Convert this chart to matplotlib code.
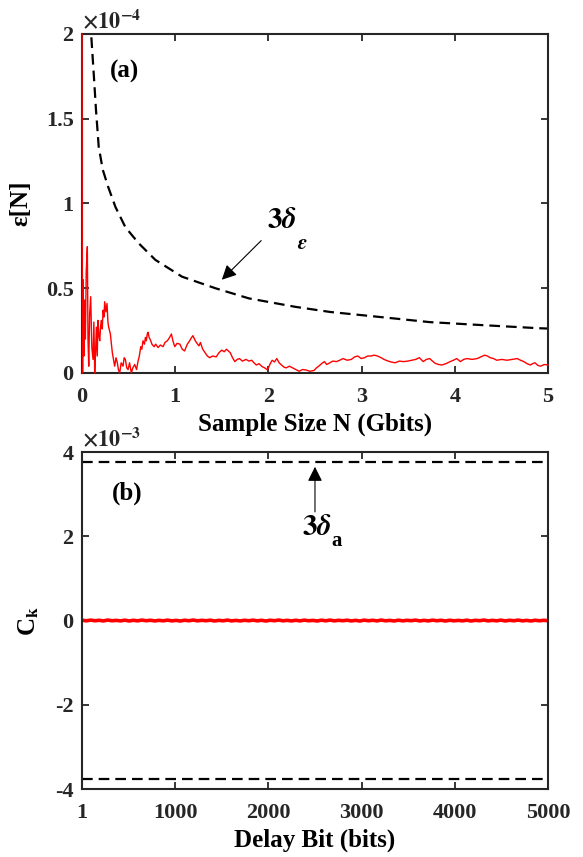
import matplotlib
matplotlib.use('Agg')
import matplotlib.pyplot as plt
import numpy as np

# panel (a): running error vs sample size (values in units of 1e-4)
n_gbits = [0, 0.002, 0.006, 0.012, 0.02, 0.028, 0.036, 0.045, 0.057, 0.064, 0.072,
           0.082, 0.093, 0.105, 0.118, 0.127, 0.136, 0.145, 0.154, 0.163, 0.172,
           0.181, 0.19, 0.2, 0.208, 0.217, 0.226, 0.235, 0.243, 0.255, 0.268,
           0.278, 0.286, 0.295, 0.304, 0.315, 0.325, 0.338, 0.35, 0.365, 0.379,
           0.39, 0.404, 0.42, 0.44, 0.452, 0.465, 0.48, 0.494, 0.51, 0.529,
           0.545, 0.565, 0.585, 0.601, 0.615, 0.63, 0.642, 0.654, 0.67, 0.68,
           0.69, 0.70, 0.708, 0.72, 0.737, 0.75, 0.773, 0.79, 0.816, 0.84,
           0.87, 0.89, 0.916, 0.94, 0.959, 0.975, 0.995, 1.02, 1.05, 1.075,
           1.10, 1.13, 1.155, 1.17, 1.19, 1.215, 1.24, 1.255, 1.27, 1.295,
           1.32, 1.345, 1.37, 1.40, 1.44, 1.47, 1.50, 1.525, 1.55, 1.57,
           1.59, 1.615, 1.64, 1.665, 1.69, 1.72, 1.76, 1.79, 1.82, 1.845,
           1.87, 1.90, 1.93, 1.96, 1.99, 2.015, 2.04, 2.065, 2.09, 2.115,
           2.14, 2.165, 2.19, 2.225, 2.26, 2.295, 2.33, 2.365, 2.40, 2.445,
           2.49, 2.515, 2.54, 2.57, 2.60, 2.625, 2.65, 2.69, 2.73, 2.765,
           2.80, 2.845, 2.89, 2.925, 2.96, 2.995, 3.03, 3.065, 3.10, 3.135,
           3.17, 3.21, 3.24, 3.27, 3.315, 3.36, 3.405, 3.45, 3.495, 3.54,
           3.58, 3.62, 3.66, 3.695, 3.73, 3.76, 3.79, 3.825, 3.86, 3.905,
           3.95, 3.985, 4.02, 4.06, 4.095, 4.13, 4.185, 4.24, 4.28, 4.32,
           4.35, 4.38, 4.415, 4.45, 4.505, 4.56, 4.615, 4.67, 4.705, 4.74,
           4.775, 4.81, 4.835, 4.86, 4.89, 4.92, 4.96, 5.0]
eps_n = [2.0, 0.84, 0.0, 0.55, 0.1, 0.43, 0.2, 0.6, 0.745, 0.2, 0.04,
         0.35, 0.45, 0.15, 0.08, 0.3, 0.0, 0.12, 0.27, 0.1, 0.31,
         0.22, 0.19, 0.28, 0.31, 0.26, 0.37, 0.33, 0.42, 0.36, 0.41,
         0.3, 0.27, 0.25, 0.23, 0.17, 0.12, 0.08, 0.04, 0.09, 0.06,
         0.02, 0.0, 0.06, 0.04, 0.09, 0.08, 0.03, 0.02, 0.06, 0.0,
         0.03, 0.05, 0.02, 0.07, 0.1, 0.155, 0.14, 0.19, 0.17, 0.21,
         0.19, 0.23, 0.24, 0.21, 0.19, 0.17, 0.155, 0.17, 0.15, 0.165,
         0.155, 0.18, 0.19, 0.21, 0.23, 0.19, 0.155, 0.175, 0.17, 0.14,
         0.13, 0.17, 0.19, 0.205, 0.22, 0.19, 0.17, 0.16, 0.18, 0.14,
         0.12, 0.10, 0.09, 0.10, 0.095, 0.12, 0.135, 0.125, 0.14, 0.13,
         0.12, 0.09, 0.067, 0.08, 0.085, 0.07, 0.08, 0.07, 0.075, 0.06,
         0.047, 0.055, 0.038, 0.03, 0.018, 0.05, 0.075, 0.065, 0.085, 0.06,
         0.047, 0.035, 0.03, 0.04, 0.03, 0.02, 0.01, 0.02, 0.018, 0.01,
         0.015, 0.03, 0.04, 0.055, 0.067, 0.05, 0.057, 0.07, 0.067, 0.075,
         0.085, 0.075, 0.08, 0.095, 0.1, 0.085, 0.09, 0.1, 0.1, 0.105,
         0.1, 0.09, 0.08, 0.073, 0.065, 0.06, 0.07, 0.067, 0.07, 0.075,
         0.08, 0.09, 0.067, 0.08, 0.085, 0.07, 0.057, 0.05, 0.047, 0.055,
         0.067, 0.075, 0.085, 0.067, 0.08, 0.085, 0.08, 0.085, 0.095, 0.105,
         0.1, 0.09, 0.085, 0.075, 0.08, 0.075, 0.08, 0.085, 0.075, 0.067,
         0.055, 0.047, 0.055, 0.06, 0.045, 0.04, 0.05, 0.047]

# 3*delta_eps bound
bound_n = [0.100, 0.125, 0.150, 0.179, 0.222, 0.279, 0.358, 0.465, 0.608, 0.787,
           1.073, 1.43, 1.79, 2.29, 2.66, 3.20, 3.73, 4.27, 4.90, 5.0]
bound_eps = [1.98, 1.77, 1.55, 1.335, 1.20, 1.10, 0.98, 0.86, 0.765, 0.667,
             0.568, 0.50, 0.44, 0.39, 0.36, 0.33, 0.30, 0.283, 0.264, 0.262]

# panel (b): autocorrelation vs delay (values in units of 1e-3)
ck_vals = [0.008, -0.006, 0.01, -0.004, 0.006, -0.009, 0.012, -0.005, 0.004, -0.008,
           0.009, -0.01, 0.006, -0.007, 0.011, -0.004, 0.007, -0.009, 0.005, -0.006,
           0.01, -0.008, 0.004, -0.011, 0.008, -0.005, 0.012, -0.007, 0.006, -0.004,
           0.009, -0.01, 0.005, -0.006, 0.011, -0.008, 0.004, -0.009, 0.007, -0.005,
           0.01, -0.007, 0.006, -0.011, 0.008, -0.004, 0.012, -0.006, 0.005, -0.009,
           0.007, -0.008, 0.01, -0.005, 0.004, -0.01, 0.009, -0.006, 0.011, -0.007,
           0.006, -0.004, 0.008, -0.009, 0.005, -0.011, 0.01, -0.005, 0.007, -0.008,
           0.012, -0.006, 0.004, -0.01, 0.009, -0.007, 0.006, -0.004, 0.011, -0.009,
           0.005, -0.008, 0.01, -0.005, 0.007, -0.011, 0.008, -0.006, 0.004, -0.007,
           0.009, -0.01, 0.006, -0.004, 0.012, -0.008, 0.005, -0.006, 0.01, -0.009,
           0.007, -0.005, 0.011, -0.007, 0.004, -0.01, 0.008, -0.006, 0.006, -0.004]
delta_a = 3.77
delay_range = [1, 5000]

plt.rcParams['font.family'] = ['Liberation Serif', 'DejaVu Serif']
plt.rcParams['font.weight'] = 'bold'
plt.rcParams['mathtext.fontset'] = 'stix'

edge = '#262626'
dash = (0, (4.8, 2.7))


def style_axes(ax):
    for s in ax.spines.values():
        s.set_linewidth(1.5)
        s.set_color(edge)
    ax.tick_params(direction='in', length=5, width=1.3, top=True, right=True,
                   labelsize=16, colors=edge)
    ax.tick_params(axis='x', pad=10)
    ax.tick_params(axis='y', pad=6)


fig = plt.figure(figsize=(5.83, 8.57), dpi=100)
ax1 = fig.add_axes([0.1407, 0.5648, 0.7993, 0.3956])
ax2 = fig.add_axes([0.1407, 0.0793, 0.7993, 0.3932])

# (a)
ax1.plot(n_gbits, eps_n, color='red', lw=1.0, zorder=3, clip_on=False)
ax1.plot(bound_n, bound_eps, color='black', lw=1.6, linestyle=dash)
ax1.set_xlim(0, 5)
ax1.set_ylim(0, 2)
ax1.set_xticks([0, 1, 2, 3, 4, 5])
ax1.set_yticks([0, 0.5, 1, 1.5, 2])
ax1.set_yticklabels(['0', '0.5', '1', '1.5', '2'])
style_axes(ax1)
ax1.set_xlabel('Sample Size N (Gbits)', fontsize=18, fontweight='bold', labelpad=4)
ax1.set_ylabel('ε[N]', fontsize=18, fontweight='bold', labelpad=10)
ax1.text(0.0, 1.003, r'$\times 10^{-4}$', transform=ax1.transAxes,
         fontsize=16, fontweight='normal', ha='left', va='bottom', color=edge)
ax1.text(0.3, 1.78, '(a)', fontsize=18, fontweight='bold', va='center')
ax1.annotate(r'$\mathbf{3}\delta$', xy=(1.50, 0.55), xytext=(1.98, 0.90),
             fontsize=21, va='center', ha='left',
             arrowprops=dict(arrowstyle='-|>', color='black', lw=0.8,
                             mutation_scale=22, shrinkA=4, shrinkB=0))
ax1.text(2.31, 0.76, r'$\epsilon$', fontsize=15, va='center', ha='left')

# (b)
lags = np.linspace(delay_range[0], delay_range[1], len(ck_vals))
ax2.plot(lags, ck_vals, color='red', lw=2.6)
ax2.plot(delay_range, [delta_a, delta_a], color='black', lw=1.6, linestyle=dash)
ax2.plot(delay_range, [-delta_a, -delta_a], color='black', lw=1.6, linestyle=dash)
ax2.set_xlim(1, 5000)
ax2.set_ylim(-4, 4)
ax2.set_xticks([1, 1000, 2000, 3000, 4000, 5000])
ax2.set_yticks([-4, -2, 0, 2, 4])
ax2.set_yticklabels(['-4', '-2', '0', '2', '4'])
style_axes(ax2)
ax2.set_xlabel('Delay Bit (bits)', fontsize=18, fontweight='bold', labelpad=4)
ax2.set_ylabel(r'C$_\mathbf{k}$', fontsize=18, fontweight='bold', labelpad=10)
ax2.text(0.0, 1.003, r'$\times 10^{-3}$', transform=ax2.transAxes,
         fontsize=16, fontweight='normal', ha='left', va='bottom', color=edge)
ax2.text(323, 3.03, '(b)', fontsize=18, fontweight='bold', va='center')
ax2.annotate('', xy=(2500, 3.65), xytext=(2500, 2.58),
             arrowprops=dict(arrowstyle='-|>', color='black', lw=0.8,
                             mutation_scale=22, shrinkA=0, shrinkB=0))
ax2.text(2358, 2.2, r'$\mathbf{3}\delta$', fontsize=21, va='center', ha='left')
ax2.text(2680, 1.9, 'a', fontsize=15, fontweight='bold', va='center', ha='left')

fig.savefig('out.png', dpi=100)
